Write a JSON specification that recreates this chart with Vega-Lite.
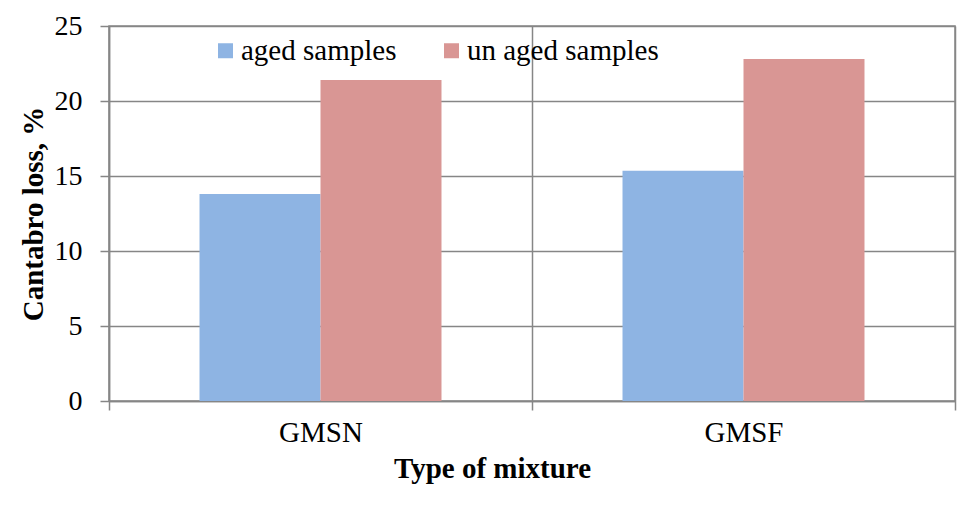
{
  "$schema": "https://vega.github.io/schema/vega-lite/v6.json",
  "autosize": "none",
  "width": 846,
  "height": 375,
  "padding": {"left": 109, "top": 26, "right": 22, "bottom": 112},
  "background": "white",
  "data": {
    "values": [
      {"mixture": "GMSN", "series": "aged samples", "loss": 13.8},
      {"mixture": "GMSN", "series": "un aged samples", "loss": 21.4},
      {"mixture": "GMSF", "series": "aged samples", "loss": 15.35},
      {"mixture": "GMSF", "series": "un aged samples", "loss": 22.8}
    ]
  },
  "mark": {"type": "bar"},
  "encoding": {
    "x": {
      "field": "mixture",
      "type": "nominal",
      "sort": ["GMSN", "GMSF"],
      "scale": {"paddingInner": 0, "paddingOuter": 0},
      "axis": {
        "title": "Type of mixture",
        "labelAngle": 0,
        "tickBand": "extent",
        "grid": true,
        "gridColor": "#868686",
        "gridWidth": 1.5,
        "domainColor": "#868686",
        "domainWidth": 1.5,
        "tickColor": "#868686",
        "tickWidth": 1.5,
        "tickSize": 9,
        "labelPadding": 8,
        "labelFont": "Liberation Serif",
        "labelFontSize": 29,
        "labelColor": "black",
        "titleFont": "Liberation Serif",
        "titleFontSize": 29,
        "titleFontWeight": "bold",
        "titleColor": "black",
        "titleX": 383,
        "titleY": 76,
        "titleAlign": "center",
        "titleBaseline": "alphabetic"
      }
    },
    "xOffset": {"field": "series", "type": "nominal", "sort": ["aged samples", "un aged samples"], "scale": {"paddingInner": 0, "paddingOuter": 0.748}},
    "y": {
      "field": "loss",
      "type": "quantitative",
      "scale": {"domain": [0, 25], "nice": false},
      "axis": {
        "title": "Cantabro loss, %",
        "values": [0, 5, 10, 15, 20, 25],
        "grid": true,
        "gridColor": "#868686",
        "gridWidth": 1.5,
        "domainColor": "#868686",
        "domainWidth": 1.5,
        "tickColor": "#868686",
        "tickWidth": 1.5,
        "tickSize": 9,
        "labelPadding": 18,
        "labelFont": "Liberation Serif",
        "labelFontSize": 28,
        "labelColor": "black",
        "titleFont": "Liberation Serif",
        "titleFontSize": 29,
        "titleFontWeight": "bold",
        "titleColor": "black",
        "titleAngle": -90,
        "titleX": -67,
        "titleY": 187.5,
        "titleAlign": "center",
        "titleBaseline": "alphabetic"
      }
    },
    "color": {
      "field": "series",
      "type": "nominal",
      "sort": ["aged samples", "un aged samples"],
      "scale": {"domain": ["aged samples", "un aged samples"], "range": ["#8EB4E3", "#D99694"]},
      "legend": {
        "title": null,
        "orient": "none",
        "direction": "horizontal",
        "legendX": 102,
        "legendY": 10,
        "padding": 0,
        "symbolType": "square",
        "symbolSize": 225,
        "symbolStrokeWidth": 0,
        "labelFont": "Liberation Serif",
        "labelFontSize": 29,
        "labelColor": "black",
        "labelOffset": 1,
        "columnPadding": 40,
        "labelLimit": 400
      }
    }
  },
  "config": {
    "font": "Liberation Serif",
    "view": {"stroke": "#868686", "strokeWidth": 1.5}
  }
}
